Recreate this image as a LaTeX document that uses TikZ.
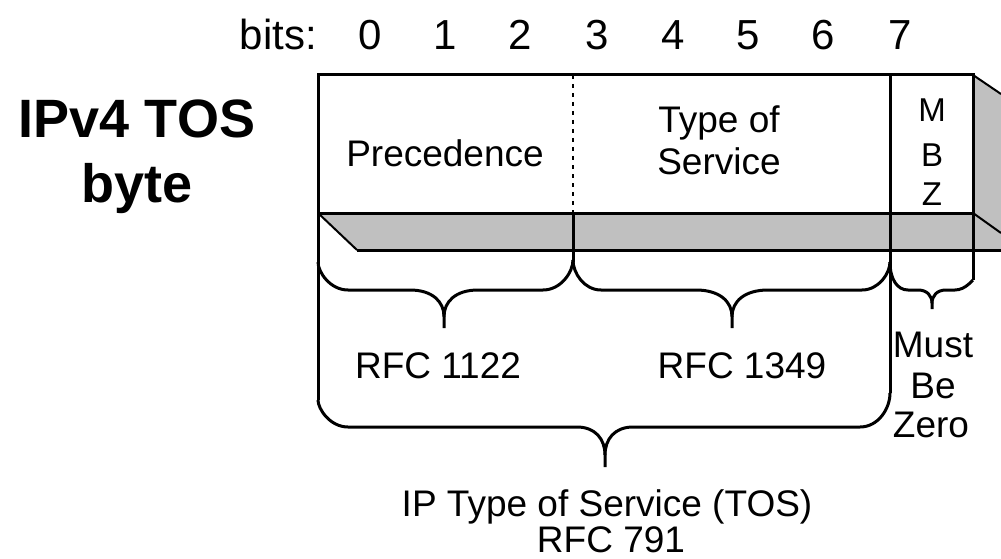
\documentclass[tikz,border=0pt]{standalone}
\usepackage{fontspec}
\setmainfont{Liberation Sans}
\definecolor{boxgray}{RGB}{192,192,192}
\tikzset{
  edge/.style={line width=3pt, black, line cap=butt},
  thinedge/.style={line width=2pt, black},
  dotline/.style={line width=2pt, black, dash pattern=on 4pt off 5pt},
  lbl/.style={inner sep=0pt, anchor=base, font=\fontsize{37}{40}\selectfont},
  bitlbl/.style={inner sep=0pt, anchor=base, font=\fontsize{42}{46}\selectfont},
  mbzlbl/.style={inner sep=0pt, anchor=base, font=\fontsize{33}{36}\selectfont},
  titlelbl/.style={inner sep=0pt, anchor=base, font=\fontsize{54}{58}\selectfont\bfseries},
}
% brace: xl yl xr yr ylevel xtip ytip endradius shoulder
\newcommand{\tosbrace}[9]{%
 \draw[edge] (#1,#2) .. controls (#1,{#5-0.6*#8}) and ({#1+0.4*#8},#5) .. ({#1+#8},#5)
   -- ({#6-#9},#5) .. controls ({#6-0.35*#9},#5) and (#6,{#5+0.3*(#7-#5)}) .. (#6,{#7-0.3*(#7-#5)}) -- (#6,#7);
 \draw[edge] (#6,{#7-0.3*(#7-#5)}) .. controls (#6,{#5+0.3*(#7-#5)}) and ({#6+0.35*#9},#5) .. ({#6+#9},#5)
   -- ({#3-#8},#5) .. controls ({#3-0.4*#8},#5) and (#3,{#5-0.6*#8}) .. (#3,#4);
}
\begin{document}
\begin{tikzpicture}[x=1pt,y=-1pt]
\useasboundingbox (0,0) rectangle (1001,559);
% corners
\coordinate (ftl) at (318,75);
\coordinate (ftr) at (973,75);
\coordinate (fbl) at (318,213);
\coordinate (fbr) at (973,213);
\coordinate (bbl) at (357,250);
% grey faces
\fill[boxgray] (fbl) -- (fbr) -- (ftr) -- (1001,94) -- (1001,250) -- (bbl) -- cycle;
% outline
\draw[edge] (ftl) -- (ftr);
\draw[edge] (fbl) -- (fbr);
\draw[edge] (bbl) -- (1001,250);
\draw[thinedge] (fbl) -- (bbl);
\draw[thinedge] (ftr) -- (1001,94);
\draw[thinedge] (fbr) -- (1001,233);
% verticals
\draw[edge] (318,73.5) -- (318,400);
\draw[dotline] (573,75) -- (573,213);
\draw[edge] (573,213) -- (573,262);
\draw[edge] (890,73.5) -- (890,393);
\draw[edge] (973,73.5) -- (973,280);
% braces
\tosbrace{318}{262}{573}{260}{290}{444}{328}{30}{34}
\tosbrace{573}{260}{890}{262}{290}{732}{328}{28}{36}
\tosbrace{890}{262}{973}{280}{290}{932}{309}{18}{14}
\tosbrace{318}{400}{890}{393}{427}{605}{467}{30}{28}
% labels
\node[titlelbl] (t1) at (137,138) {IPv4 TOS};
\node[titlelbl] (t2) at (137,202) {byte};
\node[bitlbl, anchor=base east] (bits) at (317,50) {bits:};
\foreach \d/\x in {0/370,1/445,2/520,3/597,4/673,5/748,6/823,7/900}
  \node[bitlbl] (b\d) at (\x,50) {\d};
\node[lbl] (prec) at (445,166) {Precedence};
\node[lbl] (tos1) at (719,132) {Type of};
\node[lbl] (tos2) at (719,174) {Service};
\node[mbzlbl] (m) at (932,122) {M};
\node[mbzlbl] (bb) at (932,167) {B};
\node[mbzlbl] (z) at (932,205) {Z};
\node[lbl] (r1) at (438,378) {RFC 1122};
\node[lbl] (r2) at (742,378) {RFC 1349};
\node[lbl] (mu) at (933,357) {Must};
\node[lbl] (be) at (933,398) {Be};
\node[lbl] (ze) at (931,437) {Zero};
\node[lbl] (ip) at (607,516) {IP Type of Service (TOS)};
\node[lbl] (r3) at (611,552) {RFC 791};
\end{tikzpicture}
\end{document}
